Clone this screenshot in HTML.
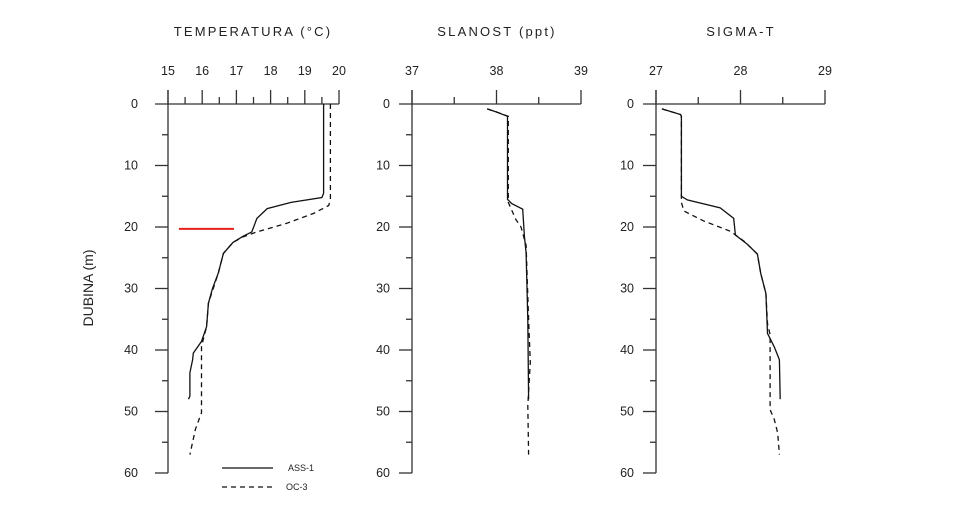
<!DOCTYPE html>
<html><head><meta charset="utf-8"><style>
html,body{margin:0;padding:0;background:#fff;}
svg{display:block;font-family:"Liberation Sans",Arial,sans-serif;}
</style></head><body>
<svg id="chart" width="964" height="528" viewBox="0 0 964 528"></svg>
<script>
const depthTicks=[0,10,20,30,40,50,60];
const tempTicks=[15,16,17,18,19,20];
const salTicks=[37,38,39];
const sigTicks=[27,28,29];
const tempAssVals=[19.55,19.55,19.5,18.6,17.9,17.6,17.45,17.2,16.9,16.62,16.47,16.3,16.18,16.13,15.98,15.74,15.72,15.64,15.64,15.6];
const tempAssDepth=[0,14.5,15.2,16.0,17.0,18.6,20.8,21.5,22.5,24.3,27.5,30,32.4,36.2,38.6,40.5,41.6,43.7,47.5,48];
const tempOcVals=[19.75,19.75,19.7,19.25,18.47,17.6,17.2,16.9,16.62,16.47,16.18,16.13,15.98,15.98,15.8,15.64];
const tempOcDepth=[0,15.5,16.5,17.8,19.4,20.8,21.6,22.5,24.3,27.5,32.4,36.2,39.4,50.2,52.9,57];
const salAssVals=[37.89,38.0,38.13,38.13,38.18,38.31,38.33,38.35,38.37,38.38];
const salAssDepth=[0.8,1.3,2.0,15.5,16.2,17.1,21.5,24.2,35,48];
const salOcVals=[37.89,38.0,38.14,38.14,38.23,38.29,38.35,38.38,38.40,38.37,38.38];
const salOcDepth=[0.8,1.3,2.0,16,18.8,20,23,35,42,49,57];
const sigAssVals=[27.07,27.29,27.3,27.3,27.37,27.76,27.92,27.94,28.08,28.2,28.24,28.3,28.32,28.4,28.46,28.47];
const sigAssDepth=[0.8,1.7,2,15,15.6,16.9,18.6,21.3,22.8,24.4,27.6,30.8,37.3,39.5,41.6,48];
const sigOcVals=[27.07,27.29,27.3,27.3,27.33,27.56,27.88,28.04,28.2,28.24,28.3,28.32,28.35,28.35,28.4,28.44,28.46];
const sigOcDepth=[0.8,1.7,2,16,17.4,19,20.7,22.3,24.4,27.6,30.8,35.7,37.5,49.7,51.3,53.5,57];
const redMarkTemps=[15.32,16.93];
const redMarkDepth=20.3;

const NS='http://www.w3.org/2000/svg';
const svg=document.getElementById('chart');
function el(tag,attrs,parent){const e=document.createElementNS(NS,tag);for(const k in attrs)e.setAttribute(k,attrs[k]);(parent||svg).appendChild(e);return e;}
const y0=104,y1=473;
function yScale(d){return y0+(y1-y0)*d/60;}

const panels=[
 {name:'temperature',title:'TEMPERATURA (°C)',tx:253,x0:168,x1:339,min:15,max:20,ticks:tempTicks,minor:0.5,lx:138,
  series:[[tempAssVals,tempAssDepth,false],[tempOcVals,tempOcDepth,true]]},
 {name:'salinity',title:'SLANOST (ppt)',tx:497,x0:412,x1:581,min:37,max:39,ticks:salTicks,minor:0.5,lx:390,
  series:[[salAssVals,salAssDepth,false],[salOcVals,salOcDepth,true]]},
 {name:'sigma-t',title:'SIGMA-T',tx:741,x0:656,x1:825,min:27,max:29,ticks:sigTicks,minor:0.5,lx:634,
  series:[[sigAssVals,sigAssDepth,false],[sigOcVals,sigOcDepth,true]]}
];
panels.forEach(p=>{
  const g=el('g',{});
  
  
  const xs=v=>p.x0+(p.x1-p.x0)*(v-p.min)/(p.max-p.min);
  const t=el('text',{x:p.tx,y:36,'text-anchor':'middle','font-size':13,'letter-spacing':'2.2',fill:'#222'},g);
  t.textContent=p.title;
  
  
  const ax=el('g',{stroke:'#333','stroke-width':1.3,fill:'none'},g);
  
  
  el('line',{x1:p.x0-13,y1:y0,x2:p.x1,y2:y0},ax);
  el('line',{x1:p.x0,y1:y0-14,x2:p.x0,y2:y1},ax);
  for(let v=p.min;v<=p.max+1e-9;v+=p.minor){
    const major=Math.abs(v-Math.round(v))<1e-9;
    el('line',{x1:xs(v),y1:y0,x2:xs(v),y2:major?y0-14:y0-7},ax);
  }
  p.ticks.forEach(v=>{
    const tt=el('text',{x:xs(v),y:75,'text-anchor':'middle','font-size':12.5,fill:'#222'},g);
    tt.textContent=v;
    
    
  });
  for(let d=5;d<=60;d+=5){
    const major=d%10===0;
    el('line',{x1:major?p.x0-13:p.x0-6,y1:yScale(d),x2:p.x0,y2:yScale(d)},ax);
  }
  depthTicks.forEach(d=>{
    const tt=el('text',{x:p.lx,y:yScale(d)+4,'text-anchor':'end','font-size':12.5,fill:'#222'},g);
    tt.textContent=d;
    
    
  });
  p.series.forEach(s=>{
    const pts=s[0].map((v,i)=>xs(v).toFixed(1)+','+yScale(s[1][i]).toFixed(1)).join(' ');
    const pl=el('polyline',{points:pts,fill:'none',stroke:'#111','stroke-width':1.3,'stroke-dasharray':s[2]?'5,4':'none'},g);
    
    
  });
  if(p.name==='temperature'){
    const r=el('line',{x1:xs(redMarkTemps[0]),y1:yScale(redMarkDepth),x2:xs(redMarkTemps[1]),y2:yScale(redMarkDepth),stroke:'#e8201c','stroke-width':2},g);
    
    
  }
});
const yt=el('text',{x:0,y:0,transform:'translate(93,288) rotate(-90)','text-anchor':'middle','font-size':14,fill:'#222'});
yt.textContent='DUBINA (m)';


const lg=el('g',{});


el('line',{x1:222,y1:468,x2:273,y2:468,stroke:'#111','stroke-width':1.3},lg);
el('line',{x1:222,y1:487,x2:273,y2:487,stroke:'#111','stroke-width':1.3,'stroke-dasharray':'5,4'},lg);
const l1=el('text',{x:288,y:471,'font-size':9,fill:'#222'},lg);l1.textContent='ASS-1';


const l2=el('text',{x:286,y:490,'font-size':9,fill:'#222'},lg);l2.textContent='OC-3';


</script>
</body></html>
